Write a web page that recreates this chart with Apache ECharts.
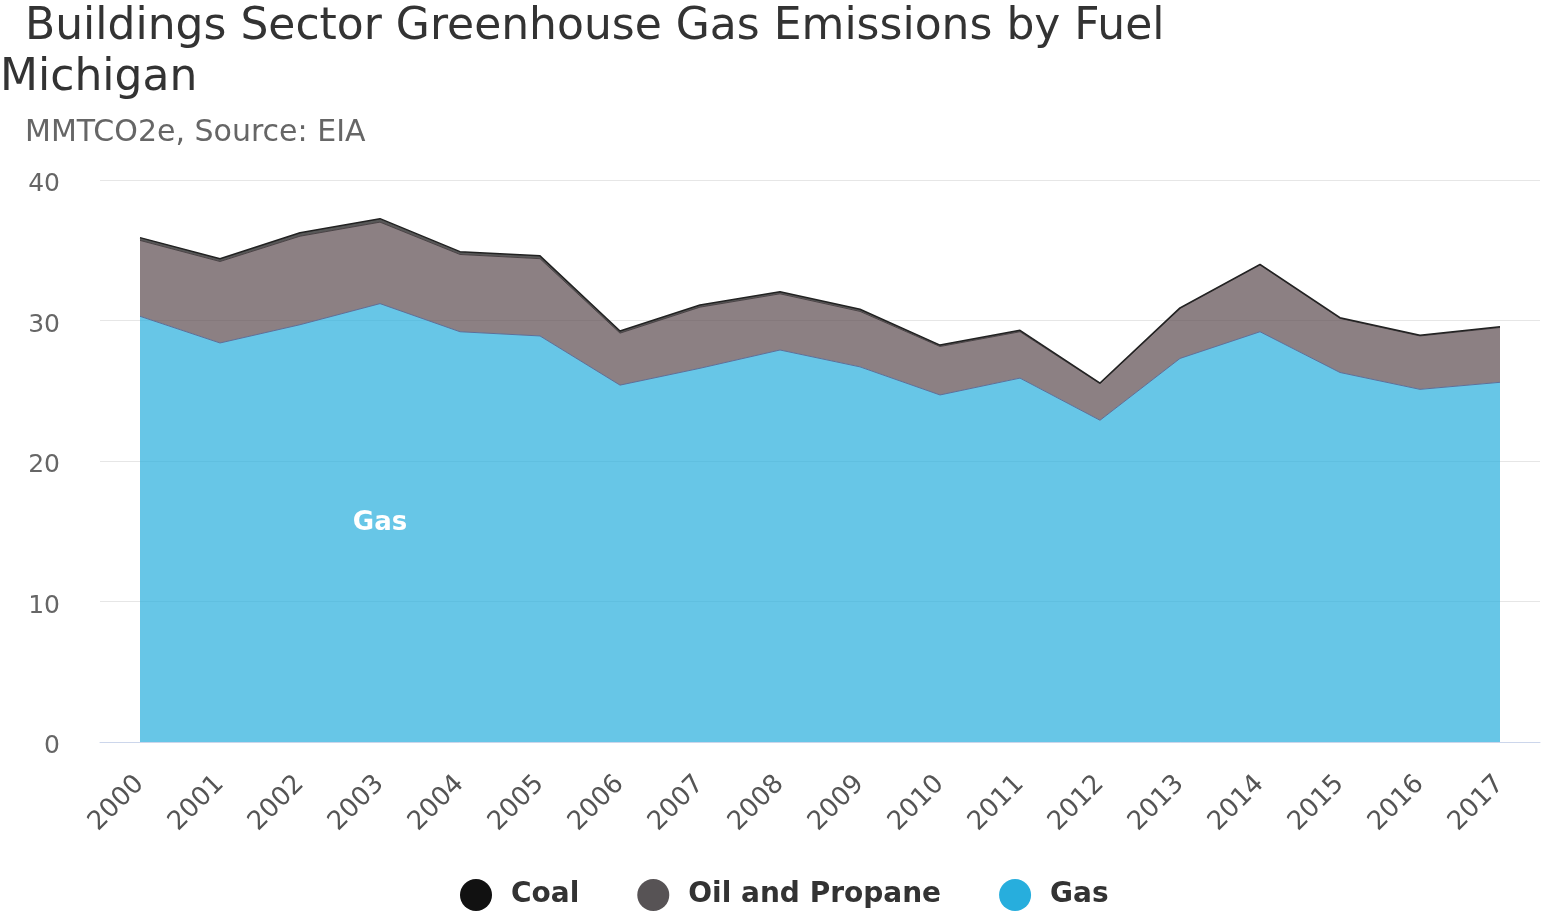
<!DOCTYPE html>
<html>
<head>
<meta charset="utf-8">
<script src="https://cdn.jsdelivr.net/npm/echarts@6/dist/echarts.min.js"></script>
<style>
  html, body { margin: 0; padding: 0; background: #fff; }
  #chart { width: 1549px; height: 916px; }
</style>
</head>
<body>
<div id="chart"></div>
<script>
// Buildings sector emissions, Michigan (MMTCO2e)
const years = ['2000','2001','2002','2003','2004','2005','2006','2007','2008',
               '2009','2010','2011','2012','2013','2014','2015','2016','2017'];
const gas = [30.3, 28.4, 29.7, 31.2, 29.2, 28.9, 25.4, 26.6, 27.9,
             26.7, 24.7, 25.9, 22.9, 27.3, 29.2, 26.3, 25.1, 25.6];
const oilPropane = [5.4, 5.8, 6.3, 5.8, 5.5, 5.5, 3.7, 4.35, 4.0,
                    3.95, 3.45, 3.3, 2.6, 3.55, 4.75, 3.85, 3.8, 3.9];
const coal = [0.2, 0.2, 0.25, 0.25, 0.2, 0.2, 0.15, 0.15, 0.15,
              0.15, 0.1, 0.1, 0.05, 0.05, 0.05, 0.05, 0.05, 0.05];
const yTicks = { min: 0, max: 40, interval: 10 };

const FONT = '"DejaVu Sans", sans-serif';
const chart = echarts.init(document.getElementById('chart'));

function areaSeries(name, data, color, extra) {
  return Object.assign({
    name: name,
    type: 'line',
    stack: 'total',
    data: data,
    symbol: 'none',
    color: color,
    lineStyle: { width: 1, color: color },
    areaStyle: { color: color, opacity: 0.7 },
    emphasis: { disabled: true },
    z: 2
  }, extra || {});
}

chart.setOption({
  animation: false,
  backgroundColor: '#ffffff',
  textStyle: { fontFamily: FONT },
  title: [
    { text: 'Buildings Sector Greenhouse Gas Emissions by Fuel', left: 25, top: 6, padding: 0,
      textStyle: { fontFamily: FONT, fontSize: 44, fontWeight: 'normal', color: '#333333' } },
    { text: 'Michigan', left: 0, top: 57, padding: 0,
      textStyle: { fontFamily: FONT, fontSize: 44, fontWeight: 'normal', color: '#333333' } },
    { text: 'MMTCO2e, Source: EIA', left: 25, top: 118, padding: 0,
      textStyle: { fontFamily: FONT, fontSize: 30, fontWeight: 'normal', color: '#666666' } }
  ],
  legend: {
    data: [
      { name: 'Coal', itemStyle: { color: '#111111' } },
      { name: 'Oil and Propane', itemStyle: { color: '#575355' } },
      { name: 'Gas', itemStyle: { color: '#27aedd' } }
    ],
    bottom: 0,
    left: 455,
    icon: 'circle',
    itemWidth: 32,
    itemHeight: 32,
    itemGap: 58,
    textStyle: { fontFamily: FONT, fontSize: 28, fontWeight: 'bold', color: '#333333',
                 padding: [0, 0, 0, 14] }
  },
  grid: { left: 100, right: 9, top: 180, bottom: 174, containLabel: false },
  xAxis: {
    type: 'category',
    data: years,
    boundaryGap: true,
    axisLine: { lineStyle: { color: '#ccd6eb', width: 1 } },
    axisTick: { show: false },
    axisLabel: { rotate: 45, fontSize: 26, color: '#555555', fontFamily: FONT, margin: 38 }
  },
  yAxis: {
    type: 'value',
    min: yTicks.min,
    max: yTicks.max,
    interval: yTicks.interval,
    axisLine: { show: false },
    axisTick: { show: false },
    splitLine: { lineStyle: { color: '#e6e6e6', width: 1 } },
    axisLabel: { fontSize: 25, color: '#666666', fontFamily: FONT, margin: 40,
                 verticalAlign: 'top', padding: [-8, 0, 0, 0] }
  },
  series: [
    areaSeries('Gas', gas, '#27aedd', {
      lineStyle: { width: 1, color: '#5b6f9a' },
      markPoint: {
        symbol: 'circle', symbolSize: 0,
        data: [{ coord: ['2003', 15.6] }],
        label: { show: true, formatter: 'Gas', color: '#ffffff', fontSize: 26,
                 fontWeight: 'bold', fontFamily: FONT, position: 'inside' }
      }
    }),
    areaSeries('Oil and Propane', oilPropane, '#5b4a4f', { lineStyle: { width: 1, color: '#4a4245' } }),
    areaSeries('Coal', coal, '#111111', { lineStyle: { width: 1.5, color: '#222222' } })
  ]
});
</script>
</body>
</html>
